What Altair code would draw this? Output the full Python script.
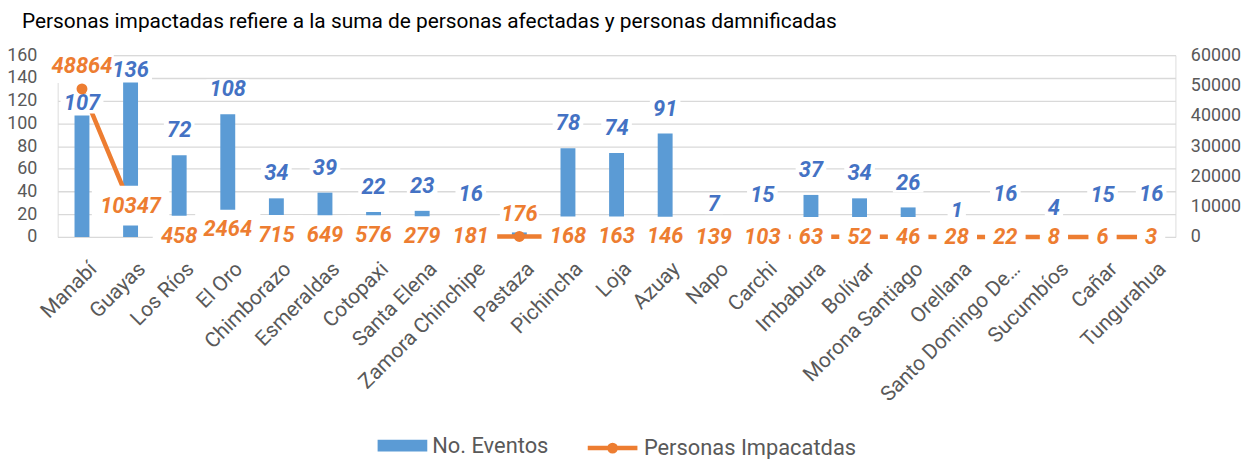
import json
import altair as alt
import pandas as pd

provincias = ["Manabí", "Guayas", "Los Ríos", "El Oro", "Chimborazo", "Esmeraldas",
              "Cotopaxi", "Santa Elena", "Zamora Chinchipe", "Pastaza", "Pichincha",
              "Loja", "Azuay", "Napo", "Carchi", "Imbabura", "Bolívar",
              "Morona Santiago", "Orellana", "Santo Domingo De…", "Sucumbíos",
              "Cañar", "Tungurahua"]
eventos = [107, 136, 72, 108, 34, 39, 22, 23, 16, 4, 78, 74, 91, 7, 15, 37, 34,
           26, 1, 16, 4, 15, 16]
personas = [48864, 10347, 458, 2464, 715, 649, 576, 279, 181, 176, 168, 163, 146,
            139, 103, 63, 52, 46, 28, 22, 8, 6, 3]
left_ticks = [0, 20, 40, 60, 80, 100, 120, 140, 160]
right_ticks = [0, 10000, 20000, 30000, 40000, 50000, 60000]
serie_bar = "No. Eventos"
serie_line = "Personas Impacatdas"
# label placement hints (like Excel's per-label position option)
line_label_above = ["Manabí", "Pastaza"]
bar_label_near = ["Manabí", "Guayas"]

df = pd.DataFrame({"provincia": provincias, "eventos": eventos,
                   "personas": personas, "orden": list(range(len(provincias)))})

BLUE_BAR = "#5B9BD5"
BLUE_TXT = "#4472C4"
ORANGE = "#ED7D31"
GREY = "#595959"
FONT = "Roboto"


def in_list(lst):
    return f"indexof({json.dumps(lst, ensure_ascii=False)}, datum.provincia) >= 0"


def not_in_list(lst):
    return f"indexof({json.dumps(lst, ensure_ascii=False)}, datum.provincia) < 0"


x = alt.X("provincia:N", sort=provincias,
          scale=alt.Scale(paddingInner=0, paddingOuter=0),
          axis=alt.Axis(title=None, labelAngle=-45, labelFontSize=21, labelColor=GREY,
                        ticks=False, domain=False, labelPadding=21, labelOffset=4,
                        labelAlign="right", labelBaseline="top",
                        labelFont=FONT, labelLimit=300))

yL = alt.Scale(domain=[0, 160], nice=False)
yR = alt.Scale(domain=[0, 60000], nice=False)

base = alt.Chart(df)

bars = base.transform_calculate(serie=f"'{serie_bar}'").mark_bar(size=15).encode(
    x=x,
    y=alt.Y("eventos:Q", scale=yL,
            axis=alt.Axis(values=left_ticks, grid=True, gridColor="#D9D9D9", gridWidth=1.3,
                          ticks=False, domain=False, labelFontSize=18, labelColor=GREY,
                          labelPadding=21, title=None, labelFont=FONT)),
    fill=alt.Fill("serie:N", scale=alt.Scale(domain=[serie_bar], range=[BLUE_BAR]),
                  legend=alt.Legend(title=None, orient="none", legendX=322, legendY=368,
                                    symbolType="M-1,-0.24L1,-0.24L1,0.24L-1,0.24Z",
                                    symbolSize=2500, symbolStrokeWidth=0,
                                    labelFontSize=22, labelColor=GREY, labelFont=FONT,
                                    labelOffset=5, labelLimit=300, padding=0)),
)

line = base.transform_calculate(serie=f"'{serie_line}'").mark_line(strokeWidth=4.5).encode(
    x=x,
    y=alt.Y("personas:Q", scale=yR,
            axis=alt.Axis(orient="right", values=right_ticks, format="d", grid=False,
                          ticks=False, domain=False, labelFontSize=18, labelColor=GREY,
                          labelPadding=15, title=None, labelFont=FONT)),
    order=alt.Order("orden:Q"),
    stroke=alt.Stroke("serie:N", scale=alt.Scale(domain=[serie_line], range=[ORANGE]),
                      legend=alt.Legend(title=None, orient="none", legendX=531, legendY=368,
                                        symbolType="M-1,0L1,0M0.13,0A0.13,0.13,0,1,1,-0.13,0A0.13,0.13,0,1,1,0.13,0",
                                        symbolSize=2500, symbolStrokeWidth=4.5,
                                        symbolFillColor=ORANGE,
                                        labelFontSize=22, labelColor=GREY, labelFont=FONT,
                                        labelOffset=4, labelLimit=300, padding=0)),
)


def blue_layers(filt, off):
    box = base.transform_filter(filt).transform_calculate(
        bw="length(toString(datum.eventos)) * 12.4 + 6"
    ).mark_tick(color="white", thickness=20, yOffset=-off, opacity=1).encode(
        x=x, y=alt.Y("eventos:Q", scale=yL, axis=None), size=alt.Size("bw:Q", scale=None))
    txt = base.transform_filter(filt).mark_text(
        dy=-off, font=FONT, fontSize=22, fontWeight="bold", fontStyle="italic",
        color=BLUE_TXT, baseline="middle").encode(
        x=x, y=alt.Y("eventos:Q", scale=yL, axis=None),
        text=alt.Text("eventos:Q", format="d"))
    return box, txt


blue_box_n, blue_txt_n = blue_layers(not_in_list(bar_label_near), 25)
blue_box_c, blue_txt_c = blue_layers(in_list(bar_label_near), 12)

points = base.mark_circle(size=120, color=ORANGE, opacity=1).encode(
    x=x, y=alt.Y("personas:Q", scale=yR, axis=None))


def orange_layers(filt, off, thick, pad):
    box = base.transform_filter(filt).transform_calculate(
        bw=f"length(toString(datum.personas)) * 12.4 + {pad}"
    ).mark_tick(color="white", thickness=thick, opacity=1, yOffset=-off).encode(
        x=x, y=alt.Y("personas:Q", scale=yR, axis=None), size=alt.Size("bw:Q", scale=None))
    txt = base.transform_filter(filt).mark_text(
        font=FONT, fontSize=22, fontWeight="bold", fontStyle="italic", color=ORANGE,
        baseline="middle", dy=-off).encode(
        x=x, y=alt.Y("personas:Q", scale=yR, axis=None),
        text=alt.Text("personas:Q", format="d"))
    return box, txt


orange_box_c, orange_txt_c = orange_layers(not_in_list(line_label_above), 0, 40, 16)
orange_box_a, orange_txt_a = orange_layers(in_list(line_label_above), 23, 34, 2)

chart = alt.layer(
    bars, line, blue_box_n, blue_txt_n, blue_box_c, blue_txt_c, points,
    orange_box_c, orange_txt_c, orange_box_a, orange_txt_a
).resolve_scale(y="independent").properties(
    width=1125, height=183,
    padding={"left": 50, "top": 46, "right": 68, "bottom": 222},
    autosize=alt.AutoSizeParams(type="none"),
    title=alt.TitleParams(
        "Personas impactadas refiere a la suma de personas afectadas y personas damnificadas",
        anchor="start", frame="group", dx=-36, fontSize=21, fontWeight="normal",
        color="black", font=FONT, offset=14),
).configure_view(stroke=None).configure(font=FONT)

chart.save("out.html", embed_options={"renderer": "svg", "actions": False})
